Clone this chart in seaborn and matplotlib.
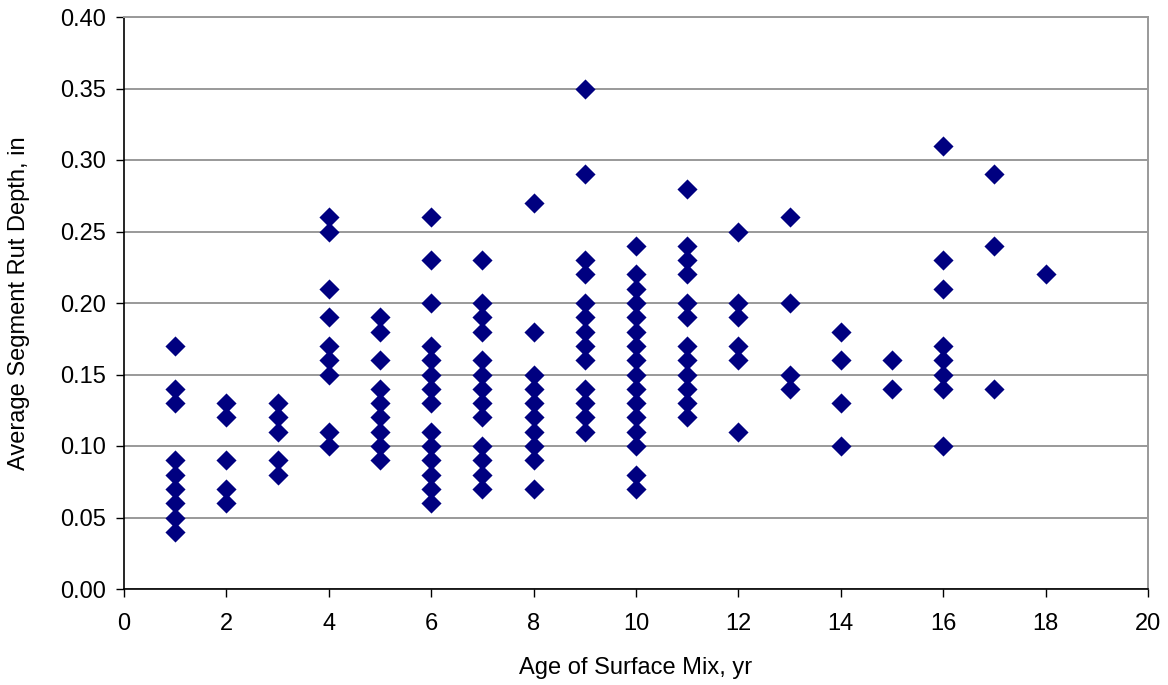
import numpy as np
import pandas as pd
import matplotlib
matplotlib.use('Agg')
import matplotlib.pyplot as plt
import seaborn as sns

# --- data: rut depth (in) for each age of surface mix (yr) ---
ages = [1, 2, 3, 4, 5, 6, 7, 8, 9, 10, 11, 12, 13, 14, 15, 16, 17, 18]
rut_yr1 = [0.17, 0.14, 0.13, 0.09, 0.08, 0.07, 0.06, 0.05, 0.04]
rut_yr2 = [0.13, 0.12, 0.09, 0.07, 0.06]
rut_yr3 = [0.13, 0.12, 0.11, 0.09, 0.08]
rut_yr4 = [0.26, 0.25, 0.21, 0.19, 0.17, 0.16, 0.15, 0.11, 0.10]
rut_yr5 = [0.19, 0.18, 0.16, 0.14, 0.13, 0.12, 0.11, 0.10, 0.09]
rut_yr6 = [0.26, 0.23, 0.20, 0.17, 0.16, 0.15, 0.14, 0.13, 0.11, 0.10, 0.09, 0.08, 0.07, 0.06]
rut_yr7 = [0.23, 0.20, 0.19, 0.18, 0.16, 0.15, 0.14, 0.13, 0.12, 0.10, 0.09, 0.08, 0.07]
rut_yr8 = [0.27, 0.18, 0.15, 0.14, 0.13, 0.12, 0.11, 0.10, 0.09, 0.07]
rut_yr9 = [0.35, 0.29, 0.23, 0.22, 0.20, 0.19, 0.18, 0.17, 0.16, 0.14, 0.13, 0.12, 0.11]
rut_yr10 = [0.24, 0.22, 0.21, 0.20, 0.19, 0.18, 0.17, 0.16, 0.15, 0.14, 0.13, 0.12, 0.11, 0.10, 0.08, 0.07]
rut_yr11 = [0.28, 0.24, 0.23, 0.22, 0.20, 0.19, 0.17, 0.16, 0.15, 0.14, 0.13, 0.12]
rut_yr12 = [0.25, 0.20, 0.19, 0.17, 0.16, 0.11]
rut_yr13 = [0.26, 0.20, 0.15, 0.14]
rut_yr14 = [0.18, 0.16, 0.13, 0.10]
rut_yr15 = [0.16, 0.14]
rut_yr16 = [0.31, 0.23, 0.21, 0.17, 0.16, 0.15, 0.14, 0.10]
rut_yr17 = [0.29, 0.24, 0.14]
rut_yr18 = [0.22]

x_ticks = list(range(0, 21, 2))
y_ticks = [0.00, 0.05, 0.10, 0.15, 0.20, 0.25, 0.30, 0.35, 0.40]

groups = [rut_yr1, rut_yr2, rut_yr3, rut_yr4, rut_yr5, rut_yr6, rut_yr7, rut_yr8, rut_yr9,
          rut_yr10, rut_yr11, rut_yr12, rut_yr13, rut_yr14, rut_yr15, rut_yr16, rut_yr17, rut_yr18]
df = pd.DataFrame({
    'age': np.repeat(ages, [len(g) for g in groups]),
    'rut': np.concatenate(groups),
})

# --- style ---
sns.set_style('white')
plt.rcParams['font.family'] = ['Liberation Sans', 'DejaVu Sans']
plt.rcParams.update({
    'font.size': 17,
    'text.color': 'black',
    'axes.labelcolor': 'black',
    'xtick.color': 'black',
    'ytick.color': 'black',
})

fig = plt.figure(figsize=(11.68, 6.85), dpi=100)
ax = fig.add_axes([124 / 1168, 1 - 589 / 685, (1148 - 124) / 1168, (589 - 17) / 685])

sns.scatterplot(data=df, x='age', y='rut', marker='D', color='#000080',
                s=105, linewidth=0, ax=ax, zorder=3, clip_on=False)

ax.set_xlim(0, 20)
ax.set_ylim(0, 0.40)
ax.set_xticks(x_ticks)
ax.set_yticks(y_ticks)
ax.set_yticklabels([f'{v:.2f}' for v in y_ticks])
ax.yaxis.grid(True, color='#999999', linewidth=1.4)
ax.set_axisbelow(True)

for side in ['top', 'right']:
    ax.spines[side].set_color('#999999')
    ax.spines[side].set_linewidth(1.4)
for side in ['left', 'bottom']:
    ax.spines[side].set_color('black')
    ax.spines[side].set_linewidth(1.2)

ax.tick_params(axis='both', direction='out', length=6, width=1.0, color='black',
               labelcolor='black', labelsize=17, left=True, bottom=True)
ax.tick_params(axis='y', pad=7)
ax.tick_params(axis='x', pad=11)

ax.set_xlabel('Age of Surface Mix, yr', fontsize=17, labelpad=16, color='black')
ax.set_ylabel('Average Segment Rut Depth, in', fontsize=17, labelpad=22, color='black')

fig.savefig('out.png', dpi=100)
